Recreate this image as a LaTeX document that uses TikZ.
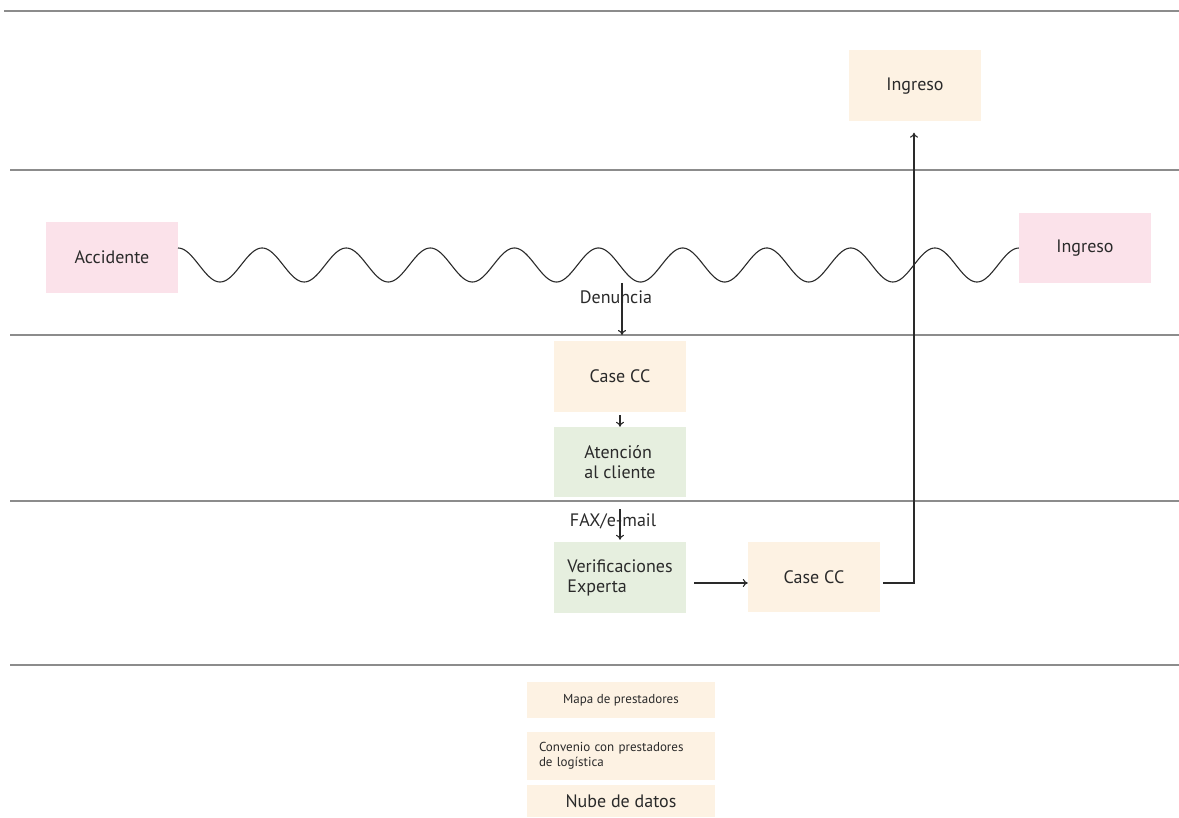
\documentclass[tikz,border=0pt]{standalone}
\usepackage{fontspec}
\setmainfont{PT Sans}
\usetikzlibrary{calc,arrows.meta}
\definecolor{lanegray}{HTML}{8C8C8C}
\definecolor{ink}{HTML}{2A2A2A}
\definecolor{cream}{HTML}{FDF2E3}
\definecolor{rosa}{HTML}{FBE2EA}
\definecolor{verde}{HTML}{E6EFDF}
\begin{document}
\begin{tikzpicture}[x=1pt,y=-1pt,
  lane/.style={draw=lanegray,line width=2.6pt},
  box/.style={minimum width=132pt,minimum height=71pt,inner sep=0pt,
    text=ink,font=\fontsize{18}{20}\selectfont,align=left},
  small/.style={minimum width=188pt,inner sep=0pt,text=ink,
    font=\fontsize{13}{15}\selectfont,align=left},
  flow/.style={draw=ink,line width=1.1pt,-{To[length=5pt,width=8pt]}},
  lbl/.style={text=ink,font=\fontsize{18}{20}\selectfont,inner sep=0pt}]
\useasboundingbox (0,0) rectangle (1179,818);

% swimlane separators
\draw[lane] (4,11) -- (1179,11);
\draw[lane] (10,170) -- (1179,170);
\draw[lane] (10,335) -- (1179,335);
\draw[lane] (10,501) -- (1179,501);
\draw[lane] (10,665) -- (1179,665);

% process boxes
\node[box,fill=cream] (ing1) at (915,86) {Ingreso};
\node[box,fill=rosa] (acc) at (112,257.5) {Accidente};
\node[box,fill=rosa,minimum height=70pt] (ing2) at (1085,248) {Ingreso};
\node[box,fill=cream] (cc1) at (620,376.5) {Case CC};
\node[box,fill=verde,minimum height=70pt] (aten) at (620,462) {Atención\\al cliente};
\node[box,fill=verde] (verif) at (620,577.5) {Verificaciones\\Experta};
\node[box,fill=cream,minimum height=70pt] (cc2) at (814,577) {Case CC};

% supporting resources
\node[small,fill=cream,minimum height=36pt] (mapa) at (621,700) {Mapa de prestadores};
\node[small,fill=cream,minimum height=48pt,text width=164pt] (conv) at (621,756) {Convenio con prestadores\\de logística};
\node[small,fill=cream,minimum height=32pt,font=\fontsize{18}{20}\selectfont] (nube) at (621,801) {Nube de datos};

% wavy timeline between the two pink events
\draw[ink,line width=1.1pt] plot[domain=0:10,samples=500,smooth]
  ({178+84.1*\x},{265-17*cos(360*\x)});

% labels on the hand-offs
\node[lbl] (den) at (616,297) {Denuncia};
\node[lbl] (fax) at (613,521) {FAX/e-mail};

\coordinate (d0) at (622,283);
\coordinate (f0) at (620,509);

\draw[flow] (d0) -- (622,335);
\draw[flow,shorten <=3pt] (cc1.south) -- (aten.north);
\draw[flow,shorten >=2pt] (f0) -- (verif.north);
\draw[flow] ([xshift=8pt,yshift=-5.5pt]verif.east) -- ([yshift=-6pt]cc2.west);
\draw[flow] ([xshift=3pt,yshift=-6pt]cc2.east) -| ([xshift=-1pt,yshift=-11pt]ing1.south);
\end{tikzpicture}
\end{document}
